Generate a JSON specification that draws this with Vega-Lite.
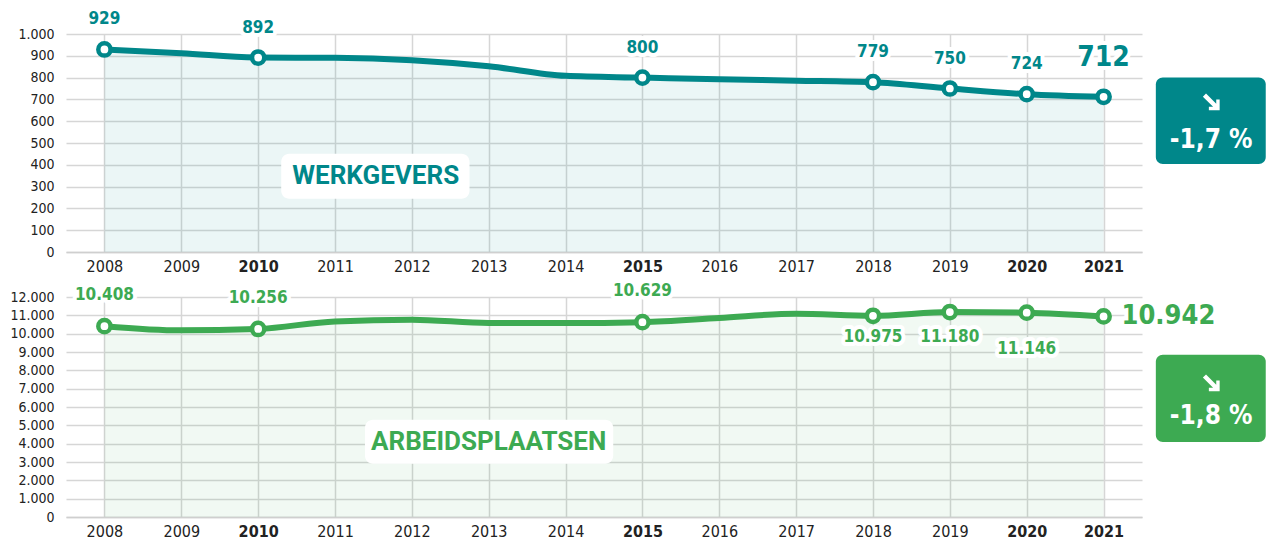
{
  "$schema": "https://vega.github.io/schema/vega-lite/v6.json",
  "background": "white",
  "padding": {"left": 9, "top": 10, "right": 5, "bottom": 5},
  "config": {
    "view": {"stroke": null},
    "font": "DejaVu Sans Condensed, Roboto, sans-serif",
    "locale": {"number": {"decimal": ",", "thousands": ".", "grouping": [3], "currency": ["€", ""]}},
    "axis": {"title": null, "ticks": false, "gridColor": "#d6d6d6", "gridWidth": 1.5, "labelColor": "#222222", "labelFont": "DejaVu Sans Condensed, Roboto, sans-serif"},
    "axisX": {"domainColor": "#cfcfcf", "domainWidth": 1.5, "labelFontSize": 16, "labelPadding": 6},
    "axisY": {"domain": false, "labelFontSize": 14, "labelPadding": 12}
  },
  "datasets": {
    "werk": [
      {"year": 2008, "value": 929}, {"year": 2009, "value": 912}, {"year": 2010, "value": 892},
      {"year": 2011, "value": 891}, {"year": 2012, "value": 880}, {"year": 2013, "value": 852},
      {"year": 2014, "value": 808}, {"year": 2015, "value": 800}, {"year": 2016, "value": 792},
      {"year": 2017, "value": 786}, {"year": 2018, "value": 779}, {"year": 2019, "value": 750},
      {"year": 2020, "value": 724}, {"year": 2021, "value": 712}
    ],
    "arb": [
      {"year": 2008, "value": 10408}, {"year": 2009, "value": 10180}, {"year": 2010, "value": 10256},
      {"year": 2011, "value": 10670}, {"year": 2012, "value": 10760}, {"year": 2013, "value": 10585},
      {"year": 2014, "value": 10580}, {"year": 2015, "value": 10629}, {"year": 2016, "value": 10855},
      {"year": 2017, "value": 11090}, {"year": 2018, "value": 10975}, {"year": 2019, "value": 11180},
      {"year": 2020, "value": 11146}, {"year": 2021, "value": 10942}
    ],
    "one": [{"k": 1}]
  },
  "spacing": 45,
  "bounds": "flush",
  "vconcat": [
    {
      "width": 1076,
      "height": 218,
      "layer": [
        {"data": {"name": "werk"},
          "encoding": {
            "x": {"field": "year", "type": "quantitative", "scale": {"domain": [2007.5, 2021.5], "nice": false, "zero": false},
              "axis": {"values": [2008,2009,2010,2011,2012,2013,2014,2015,2016,2017,2018,2019,2020,2021], "format": "d", "labelFontWeight": {"condition": {"test": "datum.value==2010||datum.value==2015||datum.value==2020||datum.value==2021", "value": "bold"}, "value": "normal"}}},
            "y": {"field": "value", "type": "quantitative", "scale": {"domain": [0, 1000], "nice": false},
              "axis": {"values": [0,100,200,300,400,500,600,700,800,900,1000], "format": ",d"}}
          },
          "layer": [
            {"mark": {"type": "area", "interpolate": "monotone", "color": "#00878A", "fillOpacity": 0.08}},
            {"mark": {"type": "line", "interpolate": "monotone", "color": "#00878A", "strokeWidth": 6}},
            {"transform": [{"filter": {"field": "year", "oneOf": [2008, 2010, 2015, 2018, 2019, 2020, 2021]}}],
              "mark": {"type": "point", "shape": "circle", "filled": false, "fill": "white", "fillOpacity": 1, "opacity": 1, "stroke": "#00878A", "strokeWidth": 4.5, "size": 150}},
            {"transform": [{"filter": {"field": "year", "oneOf": [2008, 2010, 2015, 2018, 2019, 2020]}}],
              "mark": {"type": "text", "dy": -30, "fontSize": 17, "fontWeight": "bold", "color": "white", "stroke": "white", "strokeWidth": 8, "strokeJoin": "round"},
              "encoding": {"text": {"field": "value", "type": "quantitative", "format": ",d"}}},
            {"transform": [{"filter": {"field": "year", "oneOf": [2008, 2010, 2015, 2018, 2019, 2020]}}],
              "mark": {"type": "text", "dy": -30, "fontSize": 17, "fontWeight": "bold", "color": "#00878A"},
              "encoding": {"text": {"field": "value", "type": "quantitative", "format": ",d"}}},
            {"transform": [{"filter": {"field": "year", "equal": 2021}}],
              "mark": {"type": "text", "dy": -39, "fontSize": 28, "fontWeight": "bold", "color": "white", "stroke": "white", "strokeWidth": 8, "strokeJoin": "round"},
              "encoding": {"text": {"field": "value", "type": "quantitative", "format": ",d"}}},
            {"transform": [{"filter": {"field": "year", "equal": 2021}}],
              "mark": {"type": "text", "dy": -39, "fontSize": 28, "fontWeight": "bold", "color": "#00878A"},
              "encoding": {"text": {"field": "value", "type": "quantitative", "format": ",d"}}}
          ]
        },
        {"data": {"name": "one"},
          "encoding": {
            "x": {"datum": 2011.53, "type": "quantitative",
              "axis": {"values": [2008,2009,2010,2011,2012,2013,2014,2015,2016,2017,2018,2019,2020,2021], "format": "d", "labelFontWeight": {"condition": {"test": "datum.value==2010||datum.value==2015||datum.value==2020||datum.value==2021", "value": "bold"}, "value": "normal"}}},
            "y": {"datum": 350, "type": "quantitative",
              "axis": {"values": [0,100,200,300,400,500,600,700,800,900,1000], "format": ",d"}}
          },
          "layer": [
            {"mark": {"type": "rect", "fill": "white", "cornerRadius": 8},
              "encoding": {"x": {"datum": 2010.30}, "x2": {"datum": 2012.75}, "y": {"datum": 244}, "y2": {"datum": 451}}},
            {"mark": {"type": "text", "text": "WERKGEVERS", "font": "Roboto", "fontSize": 26, "fontWeight": "bold", "color": "#00878A", "baseline": "middle"}},
            {"mark": {"type": "rect", "fill": "#00878A", "cornerRadius": 7, "clip": false},
              "encoding": {"x": {"datum": 2021.68}, "x2": {"datum": 2023.11}, "y": {"datum": 404}, "y2": {"datum": 801}}},
            {"mark": {"type": "point", "shape": "M-0.9,-0.56L-0.56,-0.9L0.55,0.21L0.55,-0.25L0.92,-0.25L0.92,0.92L-0.25,0.92L-0.25,0.55L0.21,0.55Z", "filled": true, "color": "white", "opacity": 1, "size": 340},
              "encoding": {"x": {"datum": 2022.40}, "y": {"datum": 689}}},
            {"mark": {"type": "text", "text": "-1,7 %", "fontSize": 26, "fontWeight": "bold", "color": "white", "baseline": "middle"},
              "encoding": {"x": {"datum": 2022.40}, "y": {"datum": 515}}}
          ]
        }
      ]
    },
    {
      "width": 1076,
      "height": 220,
      "layer": [
        {"data": {"name": "arb"},
          "encoding": {
            "x": {"field": "year", "type": "quantitative", "scale": {"domain": [2007.5, 2021.5], "nice": false, "zero": false},
              "axis": {"values": [2008,2009,2010,2011,2012,2013,2014,2015,2016,2017,2018,2019,2020,2021], "format": "d", "labelFontWeight": {"condition": {"test": "datum.value==2010||datum.value==2015||datum.value==2020||datum.value==2021", "value": "bold"}, "value": "normal"}}},
            "y": {"field": "value", "type": "quantitative", "scale": {"domain": [0, 12000], "nice": false},
              "axis": {"values": [0,1000,2000,3000,4000,5000,6000,7000,8000,9000,10000,11000,12000], "format": ",d"}}
          },
          "layer": [
            {"mark": {"type": "area", "interpolate": "monotone", "color": "#3DAA52", "fillOpacity": 0.07}},
            {"mark": {"type": "line", "interpolate": "monotone", "color": "#3DAA52", "strokeWidth": 6}},
            {"transform": [{"filter": {"field": "year", "oneOf": [2008, 2010, 2015, 2018, 2019, 2020, 2021]}}],
              "mark": {"type": "point", "shape": "circle", "filled": false, "fill": "white", "fillOpacity": 1, "opacity": 1, "stroke": "#3DAA52", "strokeWidth": 4.5, "size": 150}},
            {"transform": [{"filter": {"field": "year", "oneOf": [2008, 2010, 2015]}}],
              "mark": {"type": "text", "dy": -31, "fontSize": 17, "fontWeight": "bold", "color": "white", "stroke": "white", "strokeWidth": 8, "strokeJoin": "round"},
              "encoding": {"text": {"field": "value", "type": "quantitative", "format": ",d"}}},
            {"transform": [{"filter": {"field": "year", "oneOf": [2008, 2010, 2015]}}],
              "mark": {"type": "text", "dy": -31, "fontSize": 17, "fontWeight": "bold", "color": "#3DAA52"},
              "encoding": {"text": {"field": "value", "type": "quantitative", "format": ",d"}}},
            {"transform": [{"filter": {"field": "year", "equal": 2018}}],
              "mark": {"type": "text", "dy": 21, "fontSize": 17, "fontWeight": "bold", "color": "white", "stroke": "white", "strokeWidth": 8, "strokeJoin": "round"},
              "encoding": {"text": {"field": "value", "type": "quantitative", "format": ",d"}}},
            {"transform": [{"filter": {"field": "year", "equal": 2018}}],
              "mark": {"type": "text", "dy": 21, "fontSize": 17, "fontWeight": "bold", "color": "#3DAA52"},
              "encoding": {"text": {"field": "value", "type": "quantitative", "format": ",d"}}},
            {"transform": [{"filter": {"field": "year", "equal": 2019}}],
              "mark": {"type": "text", "dy": 25, "fontSize": 17, "fontWeight": "bold", "color": "white", "stroke": "white", "strokeWidth": 8, "strokeJoin": "round"},
              "encoding": {"text": {"field": "value", "type": "quantitative", "format": ",d"}}},
            {"transform": [{"filter": {"field": "year", "equal": 2019}}],
              "mark": {"type": "text", "dy": 25, "fontSize": 17, "fontWeight": "bold", "color": "#3DAA52"},
              "encoding": {"text": {"field": "value", "type": "quantitative", "format": ",d"}}},
            {"transform": [{"filter": {"field": "year", "equal": 2020}}],
              "mark": {"type": "text", "dy": 36, "fontSize": 17, "fontWeight": "bold", "color": "white", "stroke": "white", "strokeWidth": 8, "strokeJoin": "round"},
              "encoding": {"text": {"field": "value", "type": "quantitative", "format": ",d"}}},
            {"transform": [{"filter": {"field": "year", "equal": 2020}}],
              "mark": {"type": "text", "dy": 36, "fontSize": 17, "fontWeight": "bold", "color": "#3DAA52"},
              "encoding": {"text": {"field": "value", "type": "quantitative", "format": ",d"}}},
            {"transform": [{"filter": {"field": "year", "equal": 2021}}],
              "mark": {"type": "text", "dx": 18, "align": "left", "baseline": "middle", "fontSize": 27, "fontWeight": "bold", "color": "white", "stroke": "white", "strokeWidth": 8, "strokeJoin": "round"},
              "encoding": {"text": {"field": "value", "type": "quantitative", "format": ",d"}}},
            {"transform": [{"filter": {"field": "year", "equal": 2021}}],
              "mark": {"type": "text", "dx": 18, "align": "left", "baseline": "middle", "fontSize": 27, "fontWeight": "bold", "color": "#3DAA52"},
              "encoding": {"text": {"field": "value", "type": "quantitative", "format": ",d"}}}
          ]
        },
        {"data": {"name": "one"},
          "encoding": {
            "x": {"datum": 2013.0, "type": "quantitative",
              "axis": {"values": [2008,2009,2010,2011,2012,2013,2014,2015,2016,2017,2018,2019,2020,2021], "format": "d", "labelFontWeight": {"condition": {"test": "datum.value==2010||datum.value==2015||datum.value==2020||datum.value==2021", "value": "bold"}, "value": "normal"}}},
            "y": {"datum": 4108, "type": "quantitative",
              "axis": {"values": [0,1000,2000,3000,4000,5000,6000,7000,8000,9000,10000,11000,12000], "format": ",d"}}
          },
          "layer": [
            {"mark": {"type": "rect", "fill": "white", "cornerRadius": 8},
              "encoding": {"x": {"datum": 2011.39}, "x2": {"datum": 2014.62}, "y": {"datum": 2908}, "y2": {"datum": 5308}}},
            {"mark": {"type": "text", "text": "ARBEIDSPLAATSEN", "font": "Roboto", "fontSize": 26, "fontWeight": "bold", "color": "#3DAA52", "baseline": "middle"}},
            {"mark": {"type": "rect", "fill": "#3DAA52", "cornerRadius": 7, "clip": false},
              "encoding": {"x": {"datum": 2021.68}, "x2": {"datum": 2023.11}, "y": {"datum": 4091}, "y2": {"datum": 8853}}},
            {"mark": {"type": "point", "shape": "M-0.9,-0.56L-0.56,-0.9L0.55,0.21L0.55,-0.25L0.92,-0.25L0.92,0.92L-0.25,0.92L-0.25,0.55L0.21,0.55Z", "filled": true, "color": "white", "opacity": 1, "size": 340},
              "encoding": {"x": {"datum": 2022.40}, "y": {"datum": 7325}}},
            {"mark": {"type": "text", "text": "-1,8 %", "fontSize": 26, "fontWeight": "bold", "color": "white", "baseline": "middle"},
              "encoding": {"x": {"datum": 2022.40}, "y": {"datum": 5487}}}
          ]
        }
      ]
    }
  ]
}
